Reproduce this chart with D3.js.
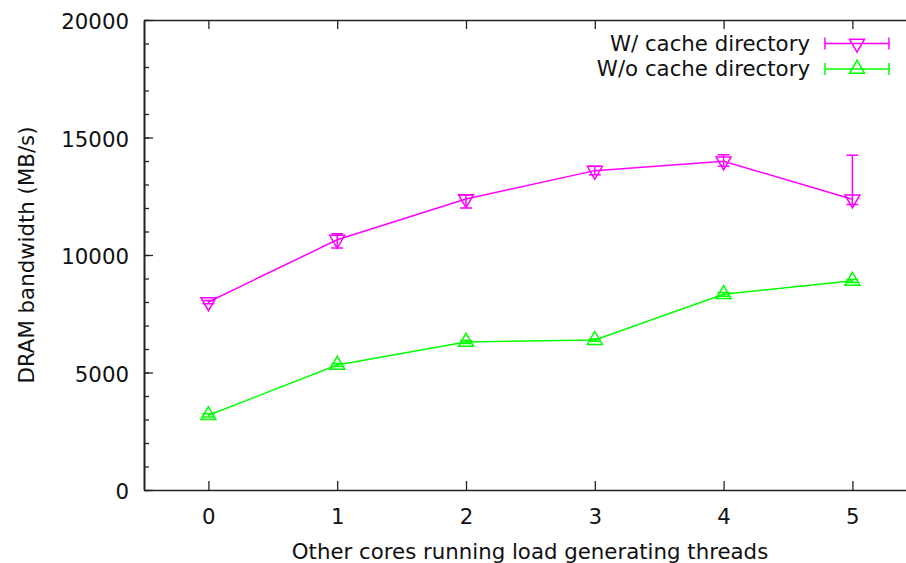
<!DOCTYPE html>
<html>
<head>
<meta charset="utf-8">
<script src="https://cdn.jsdelivr.net/npm/d3@7"></script>
<style>
  body { margin: 0; background: #fff; }
  svg { display: block; font-family: "DejaVu Sans", sans-serif; }
</style>
</head>
<body>
<div id="chart"></div>
<script>
// x categories: other cores running load generating threads
const threads = [0, 1, 2, 3, 4, 5];

// W/ cache directory (MB/s) with error range
const withDir = [8000, 10650, 12380, 13590, 13990, 12370];
const withDirLow = [7930, 10300, 12000, 13420, 13780, 12150];
const withDirHigh = [8060, 10900, 12550, 13780, 14270, 14250];

// W/o cache directory (MB/s) with error range
const withoutDir = [3180, 5320, 6300, 6380, 8330, 8900];
const withoutDirLow = [3110, 5260, 6230, 6330, 8250, 8830];
const withoutDirHigh = [3250, 5380, 6360, 6430, 8400, 8960];

const yTicks = [0, 5000, 10000, 15000, 20000];
const yMinorTicks = d3.range(0, 20001, 1000);

const width = 906;
const height = 563;
const margin = { top: 20, left: 144, bottom: 490 };
const fontSize = '21.3px';

const xScale = d3.scaleLinear()
  .domain([-0.5, 5.5])
  .range([margin.left, margin.left + 6 * 128.8]);

const yScale = d3.scaleLinear()
  .domain([0, 20000])
  .range([margin.bottom, margin.top]);

const svg = d3.select('#chart')
  .append('svg')
  .attr('width', width)
  .attr('height', height);

const series = [
  { name: 'W/ cache directory', color: '#ff00ff', down: true, values: withDir, low: withDirLow, high: withDirHigh },
  { name: 'W/o cache directory', color: '#00ff00', down: false, values: withoutDir, low: withoutDirLow, high: withoutDirHigh },
];

// gnuplot style triangle, centroid at the point
function triangle(down, s) {
  const k = down ? -1 : 1;
  return `M0,${-1.33 * s * k}L${-1.155 * s},${0.67 * s * k}L${1.155 * s},${0.67 * s * k}Z`;
}

const axisColor = '#222';

// axes with minor ticks
const yAxis = d3.axisLeft(yScale).tickValues(yTicks).tickFormat(d3.format('d'))
  .tickSize(-9).tickPadding(15).tickSizeOuter(0);
const yMinor = d3.axisLeft(yScale).tickValues(yMinorTicks).tickSize(-5).tickFormat('').tickSizeOuter(0);
const xAxis = d3.axisBottom(xScale).tickValues(threads).tickFormat(d3.format('d'))
  .tickSize(-9).tickPadding(16).tickSizeOuter(0);
const xTop = d3.axisTop(xScale).tickValues(threads).tickSize(-9).tickFormat('').tickSizeOuter(0);

svg.append('g').attr('transform', `translate(${margin.left},0)`).call(yMinor);
svg.append('g').attr('class', 'y').attr('transform', `translate(${margin.left},0)`).call(yAxis);
svg.append('g').attr('class', 'x').attr('transform', `translate(0,${margin.bottom})`).call(xAxis);
svg.append('g').attr('transform', `translate(0,${margin.top})`).call(xTop);

svg.selectAll('.domain, .tick line').attr('stroke', axisColor).attr('stroke-width', 1.3);
svg.selectAll('.domain').attr('stroke-width', 1.6);
svg.selectAll('.tick text').attr('fill', '#111').style('font-size', fontSize).style('font-family', '"DejaVu Sans", sans-serif');
svg.selectAll('.y .tick text').attr('dy', '0.4em');
svg.selectAll('.x .tick text').attr('dy', '0.85em');

// axis titles
svg.append('text')
  .attr('x', 530)
  .attr('y', 559)
  .attr('text-anchor', 'middle')
  .attr('fill', '#111')
  .style('font-size', fontSize)
  .text('Other cores running load generating threads');

svg.append('text')
  .attr('transform', 'translate(27,255) rotate(-90)')
  .attr('text-anchor', 'middle')
  .attr('dy', '0.35em')
  .attr('fill', '#111')
  .style('font-size', fontSize)
  .text('DRAM bandwidth (MB/s)');

const line = d3.line()
  .x((d, i) => xScale(threads[i]))
  .y((d) => yScale(d));

const cap = 6;

series.forEach((s) => {
  const g = svg.append('g');

  g.append('path')
    .attr('d', line(s.values))
    .attr('fill', 'none')
    .attr('stroke', s.color)
    .attr('stroke-width', 1.5);

  // error bars
  threads.forEach((t, i) => {
    const x = xScale(t);
    const y0 = yScale(s.low[i]);
    const y1 = yScale(s.high[i]);
    g.append('path')
      .attr('d', `M${x},${y0}V${y1}M${x - cap},${y0}H${x + cap}M${x - cap},${y1}H${x + cap}`)
      .attr('stroke', s.color)
      .attr('stroke-width', 1.5)
      .attr('fill', 'none');
  });

  g.selectAll('.pt')
    .data(s.values)
    .join('path')
    .attr('transform', (d, i) => `translate(${xScale(threads[i])},${yScale(d)})`)
    .attr('d', triangle(s.down, 6.5))
    .attr('fill', 'none')
    .attr('stroke', s.color)
    .attr('stroke-width', 1.5);
});

// legend
const legend = svg.append('g');
series.forEach((s, i) => {
  const y = 43.5 + i * 25.5;
  legend.append('text')
    .attr('x', 810)
    .attr('y', y)
    .attr('dy', '0.35em')
    .attr('text-anchor', 'end')
    .attr('fill', '#111')
    .style('font-size', fontSize)
    .text(s.name);
  legend.append('path')
    .attr('d', `M825,${y}H889M825,${y - cap}V${y + cap}M889,${y - cap}V${y + cap}`)
    .attr('stroke', s.color)
    .attr('stroke-width', 1.5)
    .attr('fill', 'none');
  legend.append('path')
    .attr('transform', `translate(857,${y})`)
    .attr('d', triangle(s.down, 6.5))
    .attr('fill', 'none')
    .attr('stroke', s.color)
    .attr('stroke-width', 1.5);
});
</script>
</body>
</html>
